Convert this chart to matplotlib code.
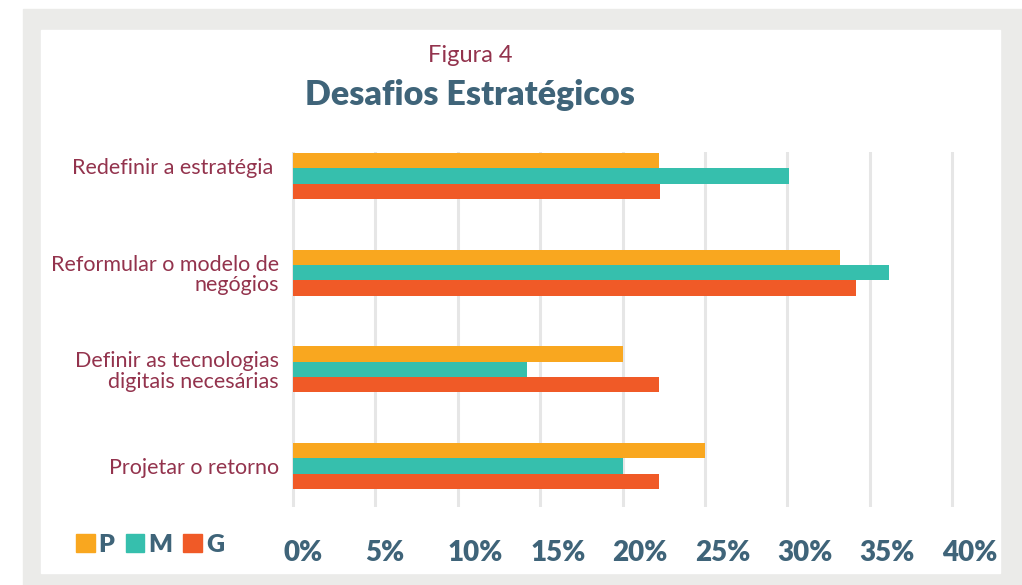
import matplotlib
matplotlib.use("Agg")
import matplotlib.pyplot as plt
import matplotlib.transforms as mtransforms
from matplotlib.patches import Rectangle, Patch
import numpy as np

# data
categories = ["Redefinir a estratégia ", "Reformular o modelo de\nnegógios",
              "Definir as tecnologias\ndigitais necesárias", "Projetar o retorno"]
series = ["P", "M", "G"]
p_vals = [22.2, 33.2, 20.0, 25.0]
m_vals = [30.1, 36.2, 14.2, 20.0]
g_vals = [22.3, 34.2, 22.2, 22.2]
xticks = [0, 5, 10, 15, 20, 25, 30, 35, 40]
xtick_labels = ["0%", "5%", "10%", "15%", "20%", "25%", "30%", "35%", "40%"]

colors = ["#F9A71F", "#36BFAD", "#F05A27"]
maroon = "#93334D"
slate = "#3F6479"
W, H = 1022, 585

plt.rcParams['font.family'] = ['Lato', 'DejaVu Sans']

fig = plt.figure(figsize=(W / 100, H / 100), dpi=100)
fig.patch.set_facecolor("white")

# grey frame + white panel
fig.add_artist(Rectangle((23 / W, 0), (W - 23) / W, (H - 9) / H,
                         transform=fig.transFigure, color="#EBEBE9", zorder=0))
fig.add_artist(Rectangle((41 / W, (H - 573) / H), 959 / W, 543 / H,
                         transform=fig.transFigure, color="white", zorder=0))

# axes: 0% at x=293, 40% at x=952; y from 152 to 507 px
px = (952 - 293) / 40
x0, x1 = -0.1, 40.2
left = 293 + x0 * px
right = 293 + x1 * px
ax = fig.add_axes([left / W, 1 - 507 / H, (right - left) / W, (507 - 152) / H])
ax.set_facecolor("none")
ax.set_zorder(2)

y = np.arange(len(categories))
h = 0.158
for i, (vals, c) in enumerate(zip([p_vals, m_vals, g_vals], colors)):
    ax.barh(y + (i - 1) * h, vals, height=h, color=c, zorder=3)

ax.set_xlim(x0, x1)
ax.set_ylim(3.424, -0.248)
for s in ax.spines.values():
    s.set_visible(False)
ax.set_xticks(xticks)
ax.grid(axis="x", color="#E6E6E6", linewidth=2.2, zorder=0)
ax.tick_params(length=0)

ax.set_yticks(y)
ax.set_yticklabels(categories, fontsize=15.5, color=maroon, fontweight="normal",
                   linespacing=1.05)
ax.tick_params(axis="y", pad=9)
# first label sits a little above its group
lab0 = ax.get_yticklabels()[0]
lab0.set_transform(lab0.get_transform() +
                   mtransforms.ScaledTranslation(0, 10 / 100, fig.dpi_scale_trans))

ax.set_xticklabels(xtick_labels, fontsize=20, color=slate, fontweight="heavy",
                   ha="left")
ax.tick_params(axis="x", pad=24)
shift = mtransforms.ScaledTranslation(-10 / 100, 0, fig.dpi_scale_trans)
for lab in ax.get_xticklabels():
    lab.set_transform(lab.get_transform() + shift)

fig.text(470 / W, 1 - 55 / H, "Figura 4", ha="center", va="center",
         fontsize=17, color=maroon, fontweight="normal")
fig.text(470 / W, 1 - 95 / H, "Desafios Estratégicos", ha="center", va="center",
         fontsize=24.5, color=slate, fontweight="heavy")

handles = [Patch(color=c) for c in colors]
leg = fig.legend(handles, series, loc="center left",
                 bbox_to_anchor=(76 / W, 1 - 545 / H), frameon=False, ncol=3,
                 fontsize=18, handlelength=0.75, handleheight=0.75,
                 handletextpad=0.15, columnspacing=0.45, borderpad=0,
                 borderaxespad=0)
for t in leg.get_texts():
    t.set_color(slate)
    t.set_fontweight("heavy")

fig.savefig("out.png", dpi=100)
